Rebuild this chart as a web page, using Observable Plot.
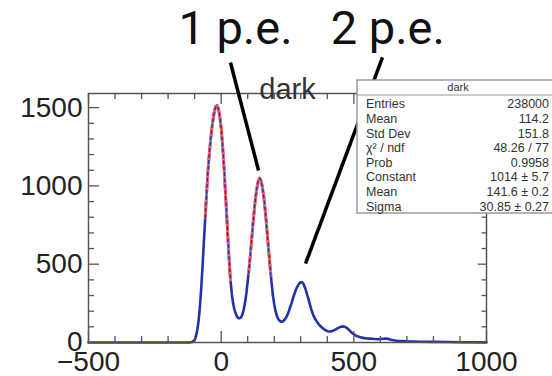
<!DOCTYPE html>
<html><head><meta charset="utf-8">
<script src="https://cdn.jsdelivr.net/npm/d3@7"></script>
<script src="https://cdn.jsdelivr.net/npm/@observablehq/plot@0.6"></script>
<style>body{margin:0;background:#fff}#chart{width:552px;height:376px}</style>
</head><body><div id="chart"></div>
<script>
// ---- data ----
const histX = [-500,-200,-120,-110,-100,-95,-90,-85,-80,-75,-70,-65,-60,-55,-50,-45,-40,-35,-30,-25,-20,-15,-10,-5,0,5,10,15,20,25,30,35,40,45,50,55,60,65,70,75,80,85,90,95,100,105,110,115,120,125,130,135,140,145,150,155,160,165,170,175,180,185,190,195,200,205,210,215,220,225,230,235,240,245,250,255,260,265,270,275,280,285,290,295,300,305,310,315,320,325,330,335,340,345,350,355,360,365,370,380,390,400,410,420,430,440,450,460,470,480,490,500,510,520,530,540,550,560,570,580,590,600,610,620,630,640,650,660,680,700,720,750,800,850,900,1000];
const histY = [0,0,0,3,15,40,80,140,230,350,490,650,800,950,1090,1200,1290,1370,1430,1480,1510,1515,1490,1440,1370,1270,1140,990,840,680,530,400,310,250,210,185,165,155,155,160,180,210,255,315,390,470,560,660,760,850,930,990,1035,1050,1035,995,940,860,770,670,570,470,380,300,245,200,170,150,140,133,133,138,148,160,178,200,225,250,280,305,330,350,365,378,385,385,375,355,330,300,270,240,210,185,165,148,135,122,112,95,82,72,70,74,82,92,100,103,97,84,66,52,42,36,31,28,26,25,24,22,21,22,24,26,23,18,14,11,9,7,6,5,4,3,2,1];

const pedFitX = [-60,-55,-50,-45,-40,-35,-30,-25,-20,-15,-10,-5,0,5,10,15,20,25,30,35];
const pedFitY = [800,950,1090,1200,1290,1370,1430,1480,1505,1510,1490,1440,1370,1270,1140,990,840,680,530,400];
const peFitX = [103,105,110,115,120,125,130,135,140,145,150,155,160,165,170,175,180,185,187];
const peFitY = [440,470,560,660,760,850,930,990,1035,1050,1035,995,940,860,770,670,570,470,430];

const xTickLabels = [-500, 0, 500, 1000];
const xMinorTicks = [-400,-300,-200,-100,100,200,300,400,600,700,800,900];
const yTickLabels = [0, 500, 1000, 1500];
const yMinorTicks = [100,200,300,400,600,700,800,900,1100,1200,1300,1400];

const histTitle = "dark";
const annotText = ["1 p.e.", "2 p.e."];
const annotFromX = [35, 608];
const annotFromY = [1788, 1820];
const annotToX = [141, 318];
const annotToY = [1098, 504];
const annotLabelX = [54, 628];
const annotLabelY = [2000, 2000];

const statLabels = ["Entries","Mean","Std Dev","χ² / ndf","Prob","Constant","Mean","Sigma"];
const statValues = ["238000","114.2","151.8","48.26 / 77","0.9958","1014 ± 5.7","141.6 ± 0.2","30.85 ± 0.27"];

// ---- layout ----
const W = 552, H = 376, mL = 88, mR = 66, mT = 93, mB = 34;
const xDomain = [-500, 1000], yDomain = [0, 1590];
const xPerPx = (xDomain[1]-xDomain[0]) / (W - mL - mR);
const yPerPx = (yDomain[1]-yDomain[0]) / (H - mT - mB);
const axisColor = "#555";
const blue = "#2232a8", red = "#ff6666";
const fmt = d3.format("d");

const hist = histX.map((x, i) => ({x, y: histY[i]}));
const pedFit = pedFitX.map((x, i) => ({x, y: pedFitY[i]}));
const peFit = peFitX.map((x, i) => ({x, y: peFitY[i]}));
const annots = annotText.map((t, i) => ({t, x1: annotFromX[i], y1: annotFromY[i], x2: annotToX[i], y2: annotToY[i], lx: annotLabelX[i], ly: annotLabelY[i]}));

const majLen = 11, minLen = 6;
const tickMarks = [];
for (const [arr, len] of [[xTickLabels, majLen], [xMinorTicks, minLen]]) {
  tickMarks.push(Plot.ruleX(arr, {x: d => d, y1: yDomain[0], y2: yDomain[0] + len*yPerPx, stroke: axisColor, strokeWidth: 1.3}));
  tickMarks.push(Plot.ruleX(arr, {x: d => d, y1: yDomain[1], y2: yDomain[1] - len*yPerPx, stroke: axisColor, strokeWidth: 1.3}));
}
for (const [arr, len] of [[yTickLabels, majLen], [yMinorTicks, minLen]]) {
  tickMarks.push(Plot.ruleY(arr, {y: d => d, x1: xDomain[0], x2: xDomain[0] + len*xPerPx, stroke: axisColor, strokeWidth: 1.3}));
  tickMarks.push(Plot.ruleY(arr, {y: d => d, x1: xDomain[1], x2: xDomain[1] - len*xPerPx*0.75, stroke: axisColor, strokeWidth: 1.3}));
}

const fitStyle = {x: "x", y: "y", stroke: red, strokeWidth: 3};
const dashStyle = {x: "x", y: "y", stroke: blue, strokeWidth: 1.4, strokeDasharray: "3,3"};

const chart = Plot.plot({
  width: W, height: H,
  marginLeft: mL, marginRight: mR, marginTop: mT, marginBottom: mB,
  style: {fontFamily: "'Liberation Sans', Arial, sans-serif", background: "white", overflow: "visible", color: "#222"},
  x: {domain: xDomain},
  y: {domain: yDomain},
  marks: [
    Plot.line(hist, {x: "x", y: "y", stroke: blue, strokeWidth: 2.6}),
    Plot.line(pedFit, fitStyle),
    Plot.line(peFit, fitStyle),
    Plot.line(pedFit, dashStyle),
    Plot.line(peFit, dashStyle),
    ...tickMarks,
    Plot.frame({stroke: axisColor, strokeWidth: 1.5}),
    Plot.axisX(xTickLabels, {tickSize: 0, tickPadding: 9, fontSize: 28, label: null, fill: "#222", tickFormat: fmt}),
    Plot.axisY(yTickLabels, {tickSize: 0, tickPadding: 6, fontSize: 28, label: null, fill: "#222", tickFormat: fmt}),
    Plot.text([histTitle], {frameAnchor: "top", text: d => d, dy: -15, fontSize: 29, fill: "#333"}),
    Plot.link(annots, {x1: "x1", y1: "y1", x2: "x2", y2: "y2", stroke: "black", strokeWidth: 3.5}),
    Plot.text(annots, {x: "lx", y: "ly", text: "t", fontSize: 47, fontFamily: "Roboto, sans-serif", fill: "#111"})
  ]
});
document.getElementById("chart").appendChild(chart);

// ---- statistics box (ROOT style) ----
const svg = d3.select(chart);
const bx = 357, by = 80, bw = 200, bh = 133, hdr = 15, row0 = 104, rowStep = 14.6;
const g = svg.append("g").attr("font-family", "'Liberation Sans', Arial, sans-serif").attr("font-size", 12.5).attr("fill", "#333");
g.append("rect").attr("x", bx).attr("y", by).attr("width", bw).attr("height", bh).attr("fill", "white").attr("stroke", "#9a9a9a").attr("stroke-width", 1.5);
g.append("line").attr("x1", bx).attr("x2", bx + bw).attr("y1", by + hdr).attr("y2", by + hdr).attr("stroke", "#9a9a9a").attr("stroke-width", 1.2);
g.append("text").attr("x", 458).attr("y", by + hdr/2).attr("dy", "0.35em").attr("text-anchor", "middle").attr("font-size", 11).text(histTitle);
g.selectAll("text.lab").data(statLabels).join("text").attr("class", "lab")
  .attr("x", 366).attr("y", (d, i) => row0 + i*rowStep).attr("dy", "0.35em").attr("text-anchor", "start").text(d => d);
g.selectAll("text.val").data(statValues).join("text").attr("class", "val")
  .attr("x", 549).attr("y", (d, i) => row0 + i*rowStep).attr("dy", "0.35em").attr("text-anchor", "end").text(d => d);
</script></body></html>
